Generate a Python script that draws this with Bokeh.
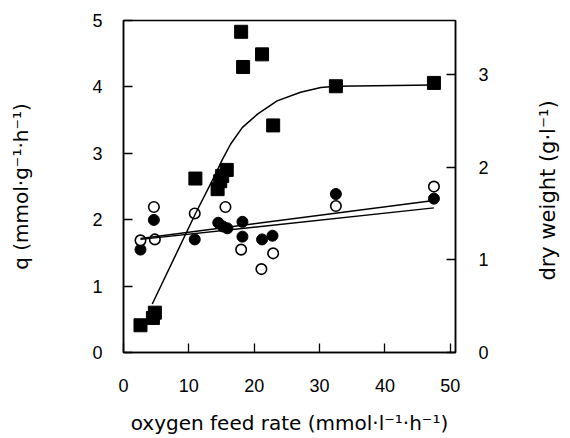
import math
from bokeh.plotting import figure
from bokeh.models import LinearAxis, Range1d, FixedTicker, Label
from bokeh.embed import file_html
from bokeh.resources import INLINE

# ---- data ----
# q (left axis, mmol g-1 h-1), squares
sq_x = [2.6, 4.5, 4.8, 11.0, 14.4, 14.8, 15.1, 15.8, 18.0, 18.3, 21.2, 22.9, 32.5, 47.5]
sq_y = [0.41, 0.52, 0.60, 2.62, 2.46, 2.58, 2.66, 2.75, 4.83, 4.30, 4.49, 3.42, 4.01, 4.06]
# fitted curve for q
qc_x = [4.4, 11.0, 14.1, 15.1, 16.4, 18.2, 20.5, 23.5, 27.1, 30.2, 32.5, 47.5]
qc_y = [0.73, 2.09, 2.69, 2.90, 3.14, 3.39, 3.59, 3.79, 3.92, 3.99, 4.01, 4.03]

# dry weight (right axis, g l-1)
fc_x = [2.6, 4.65, 10.9, 14.5, 15.2, 15.9, 18.2, 18.2, 21.2, 22.8, 32.5, 47.5]
fc_y = [1.11, 1.43, 1.22, 1.40, 1.36, 1.34, 1.41, 1.25, 1.22, 1.26, 1.71, 1.66]
oc_x = [2.6, 4.65, 4.8, 10.9, 15.6, 18.0, 21.1, 22.9, 32.5, 47.5]
oc_y = [1.21, 1.57, 1.22, 1.50, 1.57, 1.11, 0.90, 1.07, 1.58, 1.79]
# regression lines for dry weight
la_x = [2.6, 47.5]
la_y = [1.23, 1.64]
lb_x = [2.6, 47.5]
lb_y = [1.22, 1.56]

x_ticks = [0, 10, 20, 30, 40, 50]
yl_ticks = [0, 1, 2, 3, 4, 5]
yr_ticks = [0, 1, 2, 3]

x_title = "oxygen feed rate (mmol·l⁻¹·h⁻¹)"
yl_title = "q (mmol·g⁻¹·h⁻¹)"
yr_title = "dry weight (g·l⁻¹)"

TICK_FONT = "Liberation Sans"
LABEL_FONT = "DejaVu Sans"

p = figure(width=570, height=438, output_backend="svg", toolbar_location=None,
           x_range=Range1d(0, 50.8), y_range=Range1d(0, 5),
           min_border_left=123, min_border_right=115, min_border_top=20,
           min_border_bottom=86)
p.extra_y_ranges = {"dw": Range1d(0, 3.582)}
p.xgrid.visible = False
p.ygrid.visible = False
p.outline_line_color = "black"
p.outline_line_width = 1.5
p.background_fill_color = "white"
p.border_fill_color = "white"

def style_axis(ax, ticks, standoff, label_standoff, label_size):
    ax.ticker = FixedTicker(ticks=ticks)
    ax.axis_line_color = "black"
    ax.axis_line_width = 1.5
    ax.major_tick_line_color = "black"
    ax.major_tick_line_width = 1.3
    ax.major_tick_in = 9
    ax.major_tick_out = 0
    ax.minor_tick_line_color = None
    ax.major_label_text_font = TICK_FONT
    ax.major_label_text_font_size = "18px"
    ax.major_label_text_color = "black"
    ax.major_label_standoff = standoff
    ax.axis_label_text_font = LABEL_FONT
    ax.axis_label_text_font_size = label_size
    ax.axis_label_text_font_style = "normal"
    ax.axis_label_text_color = "black"
    ax.axis_label_standoff = label_standoff

xa = p.xaxis[0]
style_axis(xa, x_ticks, 26, 16, "20px")
xa.axis_label = x_title

ya = p.yaxis[0]
style_axis(ya, yl_ticks, 21, 56, "20px")
ya.axis_label = yl_title

ra = LinearAxis(y_range_name="dw")
style_axis(ra, yr_ticks, 23, 0, "20px")
p.add_layout(ra, "right")

# right-hand title, reading bottom to top like the original
p.add_layout(Label(x=64.9, y=2.44, text=yr_title, angle=math.pi / 2,
                   text_align="center", text_baseline="middle",
                   text_font=LABEL_FONT, text_font_size="21px",
                   text_color="black"), "right")

# markers
p.scatter(sq_x, sq_y, marker="square", size=13, fill_color="black", line_color="black")
p.scatter(fc_x, fc_y, y_range_name="dw", marker="circle", size=11,
          fill_color="black", line_color="black")
p.scatter(oc_x, oc_y, y_range_name="dw", marker="circle", size=10.5,
          fill_color="white", line_color="black", line_width=1.6)

# lines
p.line(qc_x, qc_y, line_color="black", line_width=1.5)
p.line(la_x, la_y, y_range_name="dw", line_color="black", line_width=1.4)
p.line(lb_x, lb_y, y_range_name="dw", line_color="black", line_width=1.4)

open("out.html", "w").write(file_html(p, INLINE))
